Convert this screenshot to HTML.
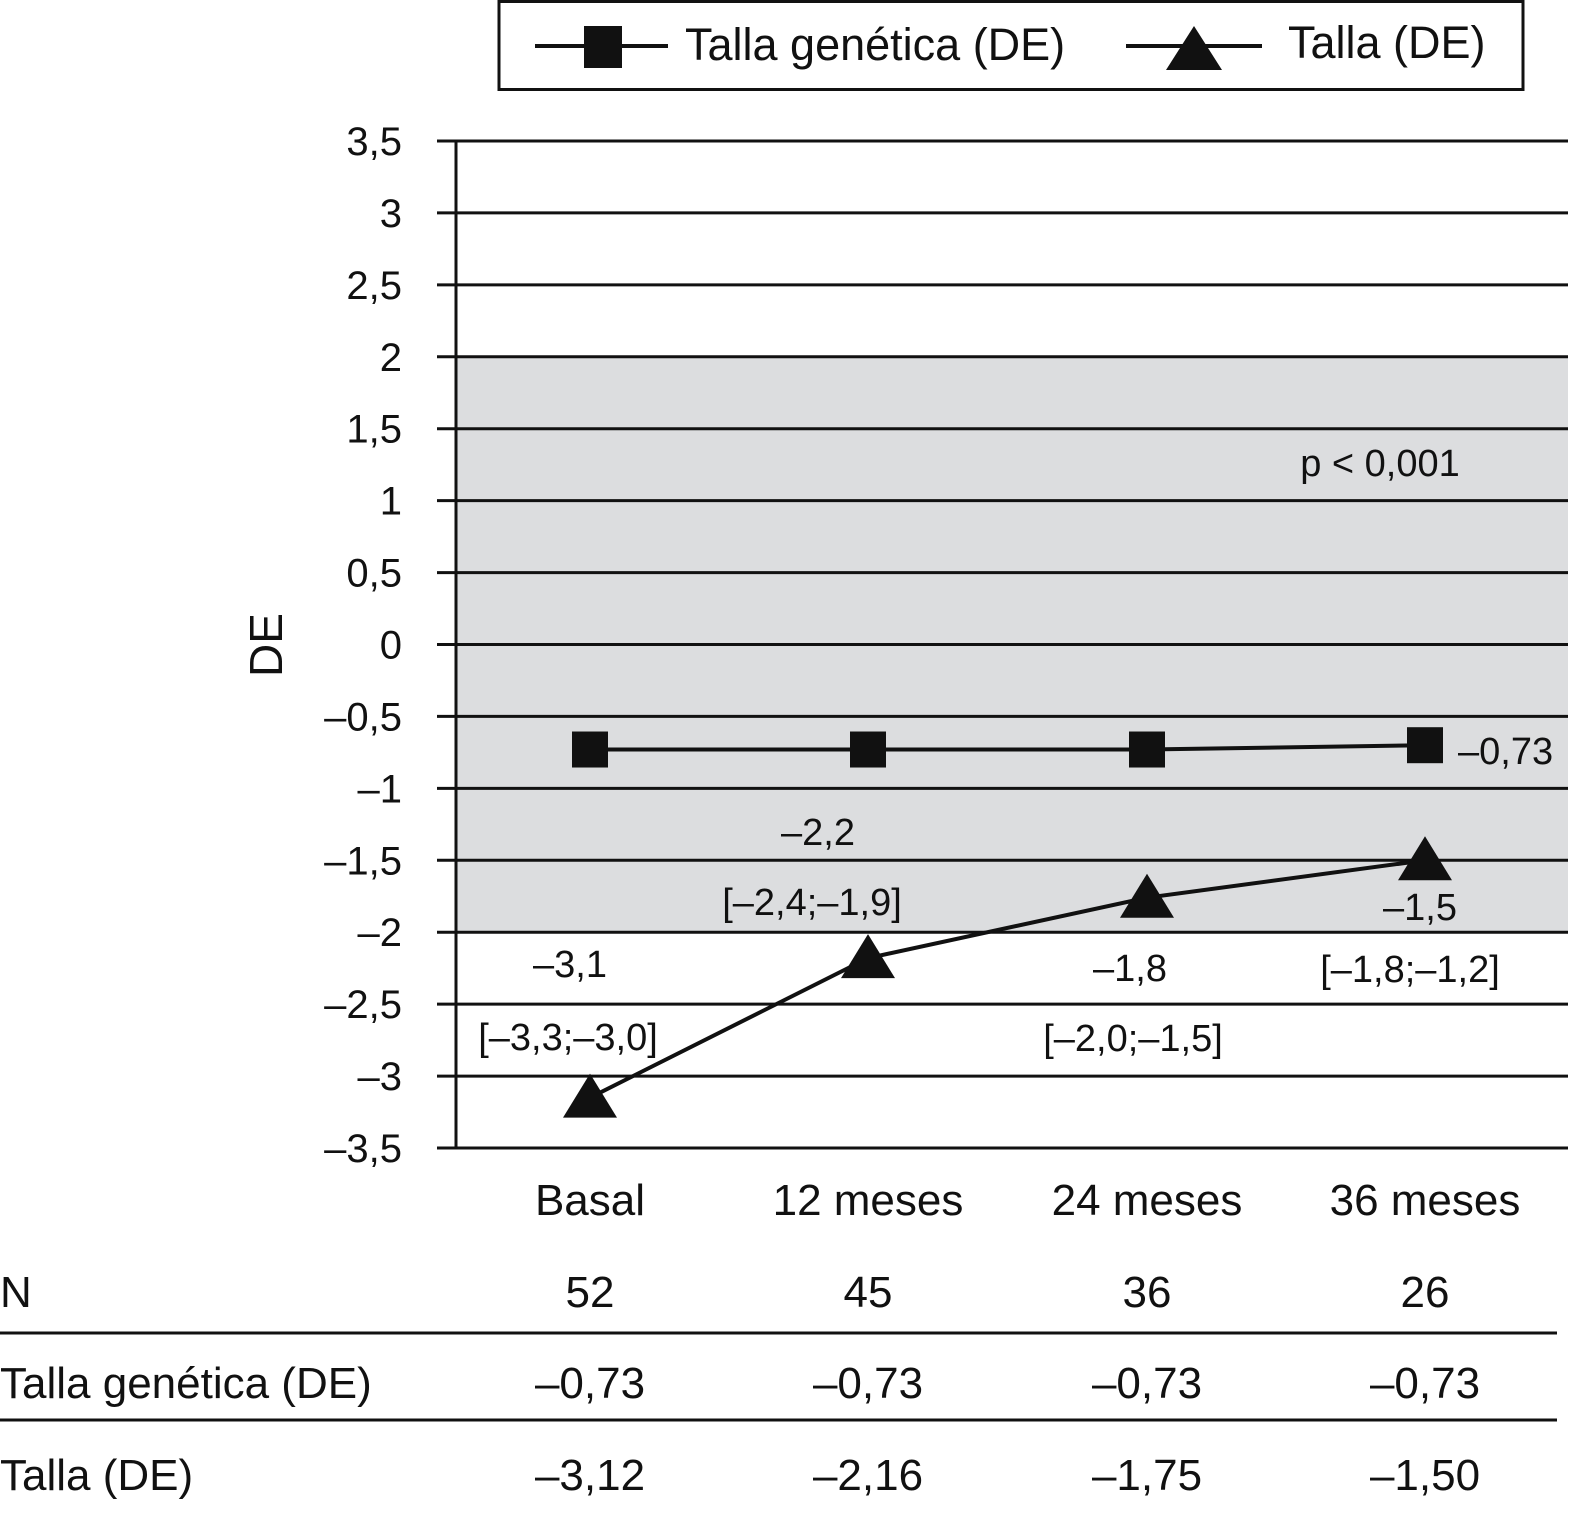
<!DOCTYPE html>
<html><head><meta charset="utf-8">
<style>
html,body{margin:0;padding:0;background:#fff;}
svg{display:block;font-family:"Liberation Sans",Arial,sans-serif;}
</style></head>
<body>
<svg id="chart" width="1583" height="1527" viewBox="0 0 1583 1527" xmlns="http://www.w3.org/2000/svg"></svg>
<script>
const categories = ["Basal", "12  meses", "24 meses", "36 meses"];
const nValues = ["52", "45", "36", "26"];
const geneticValues = [-0.73, -0.73, -0.73, -0.70];
const tallaValues = [-3.15, -2.18, -1.76, -1.50];
const tickValues = [3.5, 3, 2.5, 2, 1.5, 1, 0.5, 0, -0.5, -1, -1.5, -2, -2.5, -3, -3.5];
const geneticTableLabels = ["–0,73", "–0,73", "–0,73", "–0,73"];
const tallaTableLabels = ["–3,12", "–2,16", "–1,75", "–1,50"];
const tallaMeanLabels = ["–3,1", "–2,2", "–1,8", "–1,5"];
const tallaCiLabels = ["[–3,3;–3,0]", "[–2,4;–1,9]", "[–2,0;–1,5]", "[–1,8;–1,2]"];
const bandRange = [2, -2];

const NS = "http://www.w3.org/2000/svg";
const svg = document.getElementById("chart");
const y0 = 141, y1 = 1148, vMax = 3.5, vMin = -3.5;
const yScale = v => y0 + (vMax - v) / (vMax - vMin) * (y1 - y0);
const xPos = [590, 868, 1147, 1425];
const xScale = i => xPos[i];
function el(tag, attrs, text) {
  const e = document.createElementNS(NS, tag);
  for (const k in attrs) e.setAttribute(k, attrs[k]);
  if (text !== undefined) e.textContent = text;
  svg.appendChild(e);
  return e;
}
const fmt = v => (v < 0 ? "–" : "") + String(Math.abs(v)).replace(".", ",");

let band = el("rect", {x: 456, y: yScale(bandRange[0]), width: 1112, height: yScale(bandRange[1]) - yScale(bandRange[0]), fill: "#dcdddf"});



tickValues.forEach(v => {
  const y = yScale(v);
  const g = el("line", {x1: 437, x2: 1568, y1: y, y2: y, stroke: "#111", "stroke-width": 3});
  
  
  const t = el("text", {x: 402, y: y + 14, "text-anchor": "end", "font-size": 40, fill: "#111"}, fmt(v));
  
  
});
let ax = el("line", {x1: 456, x2: 456, y1: y0 - 1, y2: y1 + 1, stroke: "#111", "stroke-width": 3});


let yt = el("text", {x: 0, y: 0, "text-anchor": "middle", "font-size": 46, fill: "#111", transform: "translate(282,645) rotate(-90)"}, "DE");



let gp = el("polyline", {points: geneticValues.map((v, i) => xScale(i) + "," + yScale(v)).join(" "), fill: "none", stroke: "#111", "stroke-width": 4});


geneticValues.forEach((v, i) => {
  const r = el("rect", {x: xScale(i) - 18, y: yScale(v) - 18, width: 36, height: 36, fill: "#111"});
  
  
});
let tp = el("polyline", {points: tallaValues.map((v, i) => xScale(i) + "," + yScale(v)).join(" "), fill: "none", stroke: "#111", "stroke-width": 4});


tallaValues.forEach((v, i) => {
  const x = xScale(i), y = yScale(v);
  const p = el("polygon", {points: `${x},${y - 24} ${x - 27},${y + 20} ${x + 27},${y + 20}`, fill: "#111"});
  
  
});

const meanPos = [[570, 977], [818, 845], [1130, 981], [1420, 920]];
const ciPos = [[568, 1050], [812, 915], [1133, 1051], [1410, 982]];
tallaMeanLabels.forEach((s, i) => {
  const t = el("text", {x: meanPos[i][0], y: meanPos[i][1], "text-anchor": "middle", "font-size": 38, fill: "#111"}, s);
  
  
  const c = el("text", {x: ciPos[i][0], y: ciPos[i][1], "text-anchor": "middle", "font-size": 38, fill: "#111"}, tallaCiLabels[i]);
  
  
});
let gl = el("text", {x: 1458, y: 764, "font-size": 38, fill: "#111"}, "–0,73");


let pv = el("text", {x: 1380, y: 476, "text-anchor": "middle", "font-size": 38, fill: "#111"}, "p < 0,001");



categories.forEach((c, i) => {
  const t = el("text", {x: xScale(i), y: 1215, "text-anchor": "middle", "font-size": 44, fill: "#111"}, c);
  
  
});

let lb = el("rect", {x: 499, y: 1.5, width: 1024, height: 88, fill: "#fff", stroke: "#111", "stroke-width": 3});


let l1 = el("line", {x1: 535, x2: 668, y1: 46, y2: 46, stroke: "#111", "stroke-width": 4});


let l1m = el("rect", {x: 584, y: 26, width: 38, height: 42, fill: "#111"});


let l1t = el("text", {x: 685, y: 60, "font-size": 45, fill: "#111"}, "Talla genética (DE)");


let l2 = el("line", {x1: 1126, x2: 1262, y1: 46, y2: 46, stroke: "#111", "stroke-width": 4});


let l2m = el("polygon", {points: "1194,26 1166,70 1222,70", fill: "#111"});


let l2t = el("text", {x: 1288, y: 58, "font-size": 45, fill: "#111"}, "Talla (DE)");



function row(label, vals, y, name) {
  const t = el("text", {x: 0, y: y, "font-size": 44, fill: "#111"}, label);
  
  
  vals.forEach((v, i) => {
    const c = el("text", {x: xScale(i), y: y, "text-anchor": "middle", "font-size": 44, fill: "#111"}, v);
    
    
  });
}
row("N", nValues, 1307, "n");
row("Talla genética (DE)", geneticTableLabels, 1398, "talla-genetica");
row("Talla (DE)", tallaTableLabels, 1490, "talla");
[1333, 1420].forEach(y => {
  const l = el("line", {x1: 0, x2: 1557, y1: y, y2: y, stroke: "#111", "stroke-width": 3});
  
  
});
</script>
</body></html>
